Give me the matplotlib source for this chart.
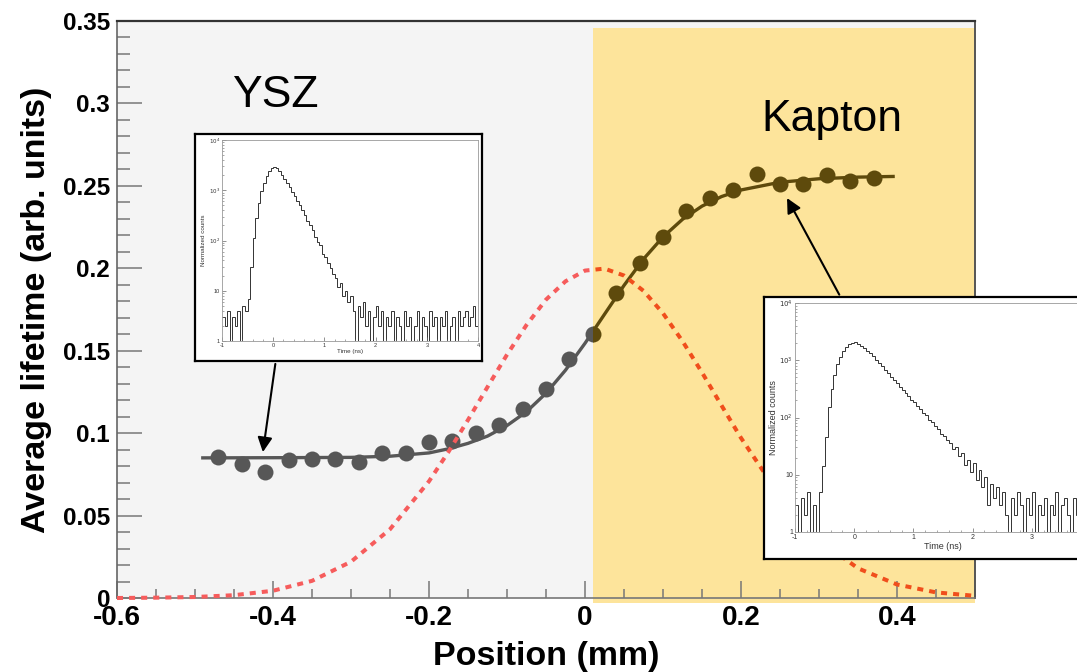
import matplotlib.pyplot as plt
import numpy as np
from matplotlib.patches import Rectangle
from matplotlib.ticker import MultipleLocator, LogLocator, FuncFormatter, NullFormatter

plt.rcParams['font.family'] = ['Liberation Sans', 'DejaVu Sans']
plt.rcParams['axes.unicode_minus'] = False

# ── Data ────────────────────────────────────────────────────────────────────
position = [-0.47, -0.44, -0.41, -0.38, -0.35, -0.32, -0.29, -0.26, -0.23, -0.20,
            -0.17, -0.14, -0.11, -0.08, -0.05, -0.02, 0.01, 0.04, 0.07, 0.10,
            0.13, 0.16, 0.19, 0.22, 0.25, 0.28, 0.31, 0.34, 0.37]
lifetime = [0.0857, 0.0813, 0.0766, 0.0837, 0.0843, 0.0845, 0.0825, 0.0877, 0.0877, 0.0948,
            0.0952, 0.1002, 0.1049, 0.1144, 0.1265, 0.1448, 0.1600, 0.1853, 0.2032, 0.2191,
            0.2347, 0.2424, 0.2474, 0.2571, 0.2511, 0.2511, 0.2565, 0.2531, 0.2545]

fit_pos = [-0.49, -0.40, -0.30, -0.25, -0.20, -0.175, -0.15, -0.125, -0.10, -0.075,
           -0.05, -0.025, 0.0, 0.025, 0.05, 0.075, 0.10, 0.125, 0.15, 0.175,
           0.20, 0.25, 0.30, 0.35, 0.395]
fit_val = [0.0850, 0.0851, 0.0853, 0.0860, 0.0880, 0.0905, 0.0938, 0.0982, 0.1046, 0.1130,
           0.1242, 0.1382, 0.1545, 0.1721, 0.1896, 0.2056, 0.2190, 0.2297, 0.2377, 0.2435,
           0.2475, 0.2522, 0.2543, 0.2553, 0.2557]

profile_pos = [-0.6, -0.55, -0.5, -0.45, -0.4, -0.35, -0.3, -0.25, -0.2, -0.175,
               -0.15, -0.125, -0.1, -0.075, -0.05, -0.025, 0.0, 0.025, 0.05, 0.075,
               0.1, 0.125, 0.15, 0.175, 0.2, 0.25, 0.3, 0.35, 0.4, 0.45, 0.5]
profile_val = [0.0000, 0.0002, 0.0006, 0.0017, 0.0044, 0.0104, 0.0220, 0.0417, 0.0708, 0.0887,
               0.1080, 0.1280, 0.1476, 0.1656, 0.1810, 0.1921, 0.1986, 0.1998, 0.1956, 0.1863,
               0.1727, 0.1558, 0.1368, 0.1168, 0.0971, 0.0618, 0.0352, 0.0180, 0.0082, 0.0034,
               0.0013]

interface = 0.01  # YSZ | Kapton boundary (mm)

# lifetime spectra shown in the insets, 0.05 ns bins from -1 to 4 ns
time_start, time_stop = -1.0, 4.0
ysz_counts = [3, 2, 4, 1, 3, 2, 4, 1, 5, 4,
              7, 30, 110, 280, 560, 950, 1400, 1900, 2400, 2800,
              2950, 2800, 2450, 2050, 1700, 1400, 1150, 940, 770, 620,
              500, 400, 320, 250, 200, 160, 120, 95, 80, 55,
              48, 35, 28, 22, 18, 12, 14, 8, 10, 6,
              8, 4, 1, 5, 3, 6, 2, 4, 1, 3,
              5, 2, 4, 1, 3, 2, 4, 1, 3, 2,
              1, 4, 2, 3, 1, 2, 4, 1, 3, 2,
              1, 4, 2, 3, 1, 3, 2, 4, 1, 2,
              3, 1, 4, 2, 3, 4, 2, 3, 5, 2]
kapton_counts = [3, 1, 4, 2, 5, 1, 3, 1, 5, 14,
                 45, 150, 320, 560, 850, 1150, 1450, 1700, 1900, 2000,
                 2050, 1950, 1800, 1650, 1480, 1320, 1170, 1030, 900, 780,
                 670, 590, 510, 450, 400, 345, 300, 268, 240, 205,
                 185, 160, 140, 120, 110, 92, 85, 70, 64, 52,
                 48, 40, 36, 28, 30, 21, 24, 15, 18, 11,
                 16, 8, 12, 6, 9, 3, 7, 4, 6, 3,
                 5, 2, 1, 4, 2, 5, 3, 1, 4, 2,
                 5, 1, 3, 2, 4, 1, 3, 2, 5, 1,
                 3, 4, 2, 1, 4, 2, 3, 1, 4, 2]

# ── Layout helpers (pixel boxes of the 1077x672 canvas) ─────────────────────
W, H = 1077, 672


def px_box(x0, y0, x1, y1):
    return [x0 / W, 1 - y1 / H, (x1 - x0) / W, (y1 - y0) / H]


fig = plt.figure(figsize=(W / 100, H / 100), dpi=100)
ax = fig.add_axes(px_box(117, 21, 975, 598))
ax.set_facecolor('#f4f4f4')
ax.set_xlim(-0.6, 0.5)
ax.set_ylim(0, 0.35)

ax.axvspan(interface, 0.5, ymin=-0.009, ymax=0.988, color='#fde49b', lw=0,
           zorder=0.5, clip_on=False)

right_side = Rectangle((interface, -1), 2, 3, transform=ax.transData)
left_side = Rectangle((-2, -1), 2 + interface, 3, transform=ax.transData)

# fit curve + measured points: gray over YSZ, brown over Kapton
for color, clip in [('#575757', left_side), ('#5e4a0c', right_side)]:
    line, = ax.plot(fit_pos, fit_val, color=color, lw=2.4, zorder=3)
    dots, = ax.plot(position, lifetime, 'o', ms=11.5, color=color, mec='none', zorder=4)
    line.set_clip_path(clip)
    dots.set_clip_path(clip)

# beam profile (dotted)
for color, clip in [('#f65c5c', left_side), ('#f04e1c', right_side)]:
    prof, = ax.plot(profile_pos, profile_val, color=color, lw=2.9,
                    linestyle=(0, (1.5, 1.5)), zorder=5)
    prof.set_clip_path(clip)

# ticks
ax.xaxis.set_major_locator(MultipleLocator(0.2))
ax.xaxis.set_minor_locator(MultipleLocator(0.05))
ax.yaxis.set_major_locator(MultipleLocator(0.05))
ax.yaxis.set_minor_locator(MultipleLocator(0.01))
fmt = FuncFormatter(lambda v, p: f'{round(v, 3):g}' if abs(v) > 1e-9 else '0')
ax.xaxis.set_major_formatter(fmt)
ax.yaxis.set_major_formatter(fmt)
ax.tick_params(axis='y', which='major', direction='in', length=18, width=1.1,
               color='#777777', pad=5, labelsize=17.5)
ax.tick_params(axis='y', which='minor', direction='in', length=9, width=1.1, color='#777777')
ax.tick_params(axis='x', which='major', direction='in', length=12, width=1.1,
               color='#777777', pad=5, labelsize=20)
ax.tick_params(axis='x', which='minor', direction='in', length=6.5, width=1.1, color='#777777')
plt.setp(ax.get_xticklabels() + ax.get_yticklabels(), fontweight='bold')

for side, col, lw in [('top', '#333333', 1.6), ('right', '#555555', 1.4),
                      ('left', '#666666', 1.2), ('bottom', '#777777', 1.2)]:
    ax.spines[side].set_color(col)
    ax.spines[side].set_linewidth(lw)

ax.set_xlabel('Position (mm)', fontsize=24.5, fontweight='bold', labelpad=7)
ax.set_ylabel('Average lifetime (arb. units)', fontsize=24.5, fontweight='bold', labelpad=8)

ax.text(-0.397, 0.305, 'YSZ', fontsize=32, ha='center', va='center', zorder=6)
ax.text(0.317, 0.29, 'Kapton', fontsize=32, ha='center', va='center', zorder=6)

arrow = dict(arrowstyle='-|>', color='black', lw=1.5, mutation_scale=22, shrinkA=0, shrinkB=0)
ax.annotate('', xy=(-0.413, 0.0885), xytext=(-0.397, 0.142), arrowprops=arrow, zorder=7)
ax.annotate('', xy=(0.259, 0.2426), xytext=(0.326, 0.184), arrowprops=arrow, zorder=7)


# ── Insets: positron lifetime spectra ───────────────────────────────────────
def pow_label(v, p):
    n = int(round(np.log10(v)))
    return {0: '1', 1: '10'}.get(n, f'$10^{{{n}}}$')


def spectrum_inset(box, plot, counts, tick_fs, label_fs, ypad):
    frame = fig.add_axes(px_box(*box))
    frame.set_xticks([])
    frame.set_yticks([])
    frame.set_facecolor('white')
    for s in frame.spines.values():
        s.set_color('black')
        s.set_linewidth(1.6)
    frame.set_zorder(6)

    ins = fig.add_axes(px_box(*plot))
    ins.set_zorder(7)
    ins.patch.set_alpha(0)
    edges = np.linspace(time_start, time_stop, len(counts) + 1)
    ins.stairs(counts, edges, baseline=None, color='#333333', lw=0.7)
    ins.set_yscale('log')
    ins.set_ylim(1, 1e4)
    ins.set_xlim(time_start, time_stop)
    ins.xaxis.set_major_locator(MultipleLocator(1))
    ins.xaxis.set_minor_locator(MultipleLocator(0.2))
    ins.yaxis.set_major_locator(LogLocator(base=10))
    ins.yaxis.set_minor_locator(LogLocator(base=10, subs=np.arange(2, 10)))
    ins.yaxis.set_major_formatter(FuncFormatter(pow_label))
    ins.yaxis.set_minor_formatter(NullFormatter())
    ins.tick_params(which='major', direction='in', length=3, width=0.5, color='#666666',
                    labelsize=tick_fs, pad=1.5, labelcolor='#333333')
    ins.tick_params(which='minor', direction='in', length=1.5, width=0.4, color='#666666')
    for s in ins.spines.values():
        s.set_color('#999999')
        s.set_linewidth(0.6)
    ins.set_xlabel('Time (ns)', fontsize=label_fs, labelpad=1, color='#333333')
    ins.set_ylabel('Normalized counts', fontsize=label_fs, labelpad=ypad, color='#333333')
    return ins


spectrum_inset((195, 134, 482, 361), (222, 140, 478, 341), ysz_counts, 4, 4.5, 2)
spectrum_inset((764, 297, 1115, 559), (795, 303, 1091, 532), kapton_counts, 5, 6.5, 1)

fig.savefig('out.png', dpi=100, facecolor='white')
